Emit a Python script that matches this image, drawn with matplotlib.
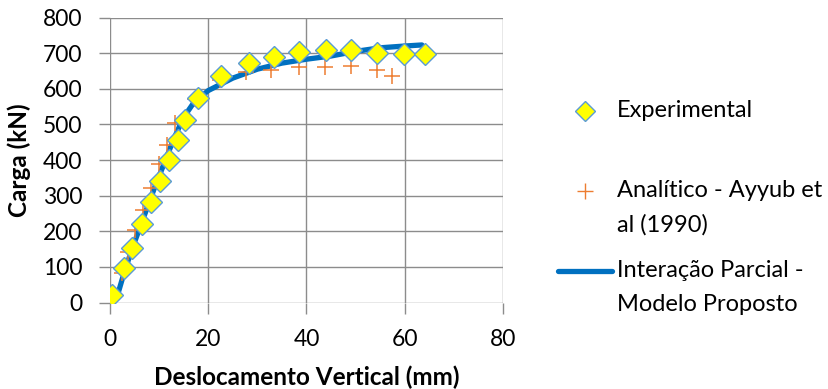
import matplotlib.pyplot as plt
from matplotlib.lines import Line2D

# data
exp_x = [0.5, 2.8, 4.5, 6.5, 8.4, 10.1, 12.0, 13.9, 15.2, 17.9, 22.5, 28.3, 33.3,
         38.5, 43.9, 49.0, 54.4, 59.8, 64.1]
exp_y = [22, 96, 152, 221, 281, 342, 400, 456, 512, 573, 636, 671, 690,
         704, 708, 708, 701, 699, 699]

ana_x = [0.3, 2.4, 3.6, 5.1, 6.8, 8.4, 10.0, 11.7, 13.3, 17.4, 22.3, 27.7, 32.8,
         38.4, 43.7, 49.0, 54.3, 57.5]
ana_y = [19, 84, 141, 204, 260, 321, 388, 442, 503, 570, 626, 646, 652,
         662, 662, 664, 652, 636]

mod_x = [1.3, 3.0, 5.0, 7.0, 9.0, 11.0, 13.0, 15.0, 17.0, 20.0, 25.0, 30.0, 35.0,
         40.0, 45.0, 50.0, 55.0, 60.0, 63.5]
mod_y = [10, 90, 170, 245, 320, 390, 460, 520, 560, 595, 630, 655, 672,
         683, 692, 705, 715, 720, 723]

labels = ['Experimental', 'Analítico - Ayyub et\nal (1990)',
          'Interação Parcial -\nModelo Proposto']

plt.rcParams['font.family'] = ['Lato', 'DejaVu Sans']

fig = plt.figure(figsize=(8.29, 3.89), dpi=100)
ax = fig.add_axes([0.1327, 0.222, 0.474, 0.733])

blue = '#0070C0'
orange = '#ED7D31'
grid_c = '#8c8c8c'

ax.plot(mod_x, mod_y, color=blue, lw=3.8, solid_capstyle='round', zorder=2)
ax.plot(ana_x, ana_y, ls='none', marker='+', ms=12, mew=1.1, color=orange, zorder=3)
ax.plot(exp_x, exp_y, ls='none', marker='D', ms=11, mfc='#FFFF00', mec='#5B9BD5',
        mew=1.0, zorder=4)

ax.set_xlim(0, 80)
ax.set_ylim(0, 800)
ax.set_xticks(range(0, 81, 20))
ax.set_yticks(range(0, 801, 100))
ax.grid(True, color=grid_c, lw=1.0)
ax.set_axisbelow(True)
for s in ax.spines.values():
    s.set_visible(False)
ax.tick_params(length=8, width=1.0, color=grid_c, labelsize=16.5)
ax.tick_params(axis='y', pad=12)
ax.tick_params(axis='x', pad=11)
ax.set_xlabel('Deslocamento Vertical (mm)', fontsize=17.5, fontweight='bold', labelpad=11)
ax.set_ylabel('Carga (kN)', fontsize=17.5, fontweight='bold', labelpad=8)

# legend drawn by hand so markers line up with the first text line (Excel style)
W, H = 829, 389
def fy(py):
    return 1 - py / H

fig.add_artist(Line2D([585 / W], [fy(111)], marker='D', ms=10, mfc='#FFFF00',
                      mec='#5B9BD5', mew=1.0, ls='none', transform=fig.transFigure))
fig.add_artist(Line2D([585 / W], [fy(191)], marker='+', ms=12, mew=1.0,
                      color=orange, ls='none', transform=fig.transFigure))
fig.add_artist(Line2D([558 / W, 612 / W], [fy(271), fy(271)], color=blue, lw=3.8,
                      solid_capstyle='round', transform=fig.transFigure))
for lab, py in zip(labels, [111, 191, 271]):
    fig.text(617 / W, fy(py - 11), lab, fontsize=17, va='top', ha='left',
             linespacing=1.75)

fig.savefig('out.png', dpi=100)
